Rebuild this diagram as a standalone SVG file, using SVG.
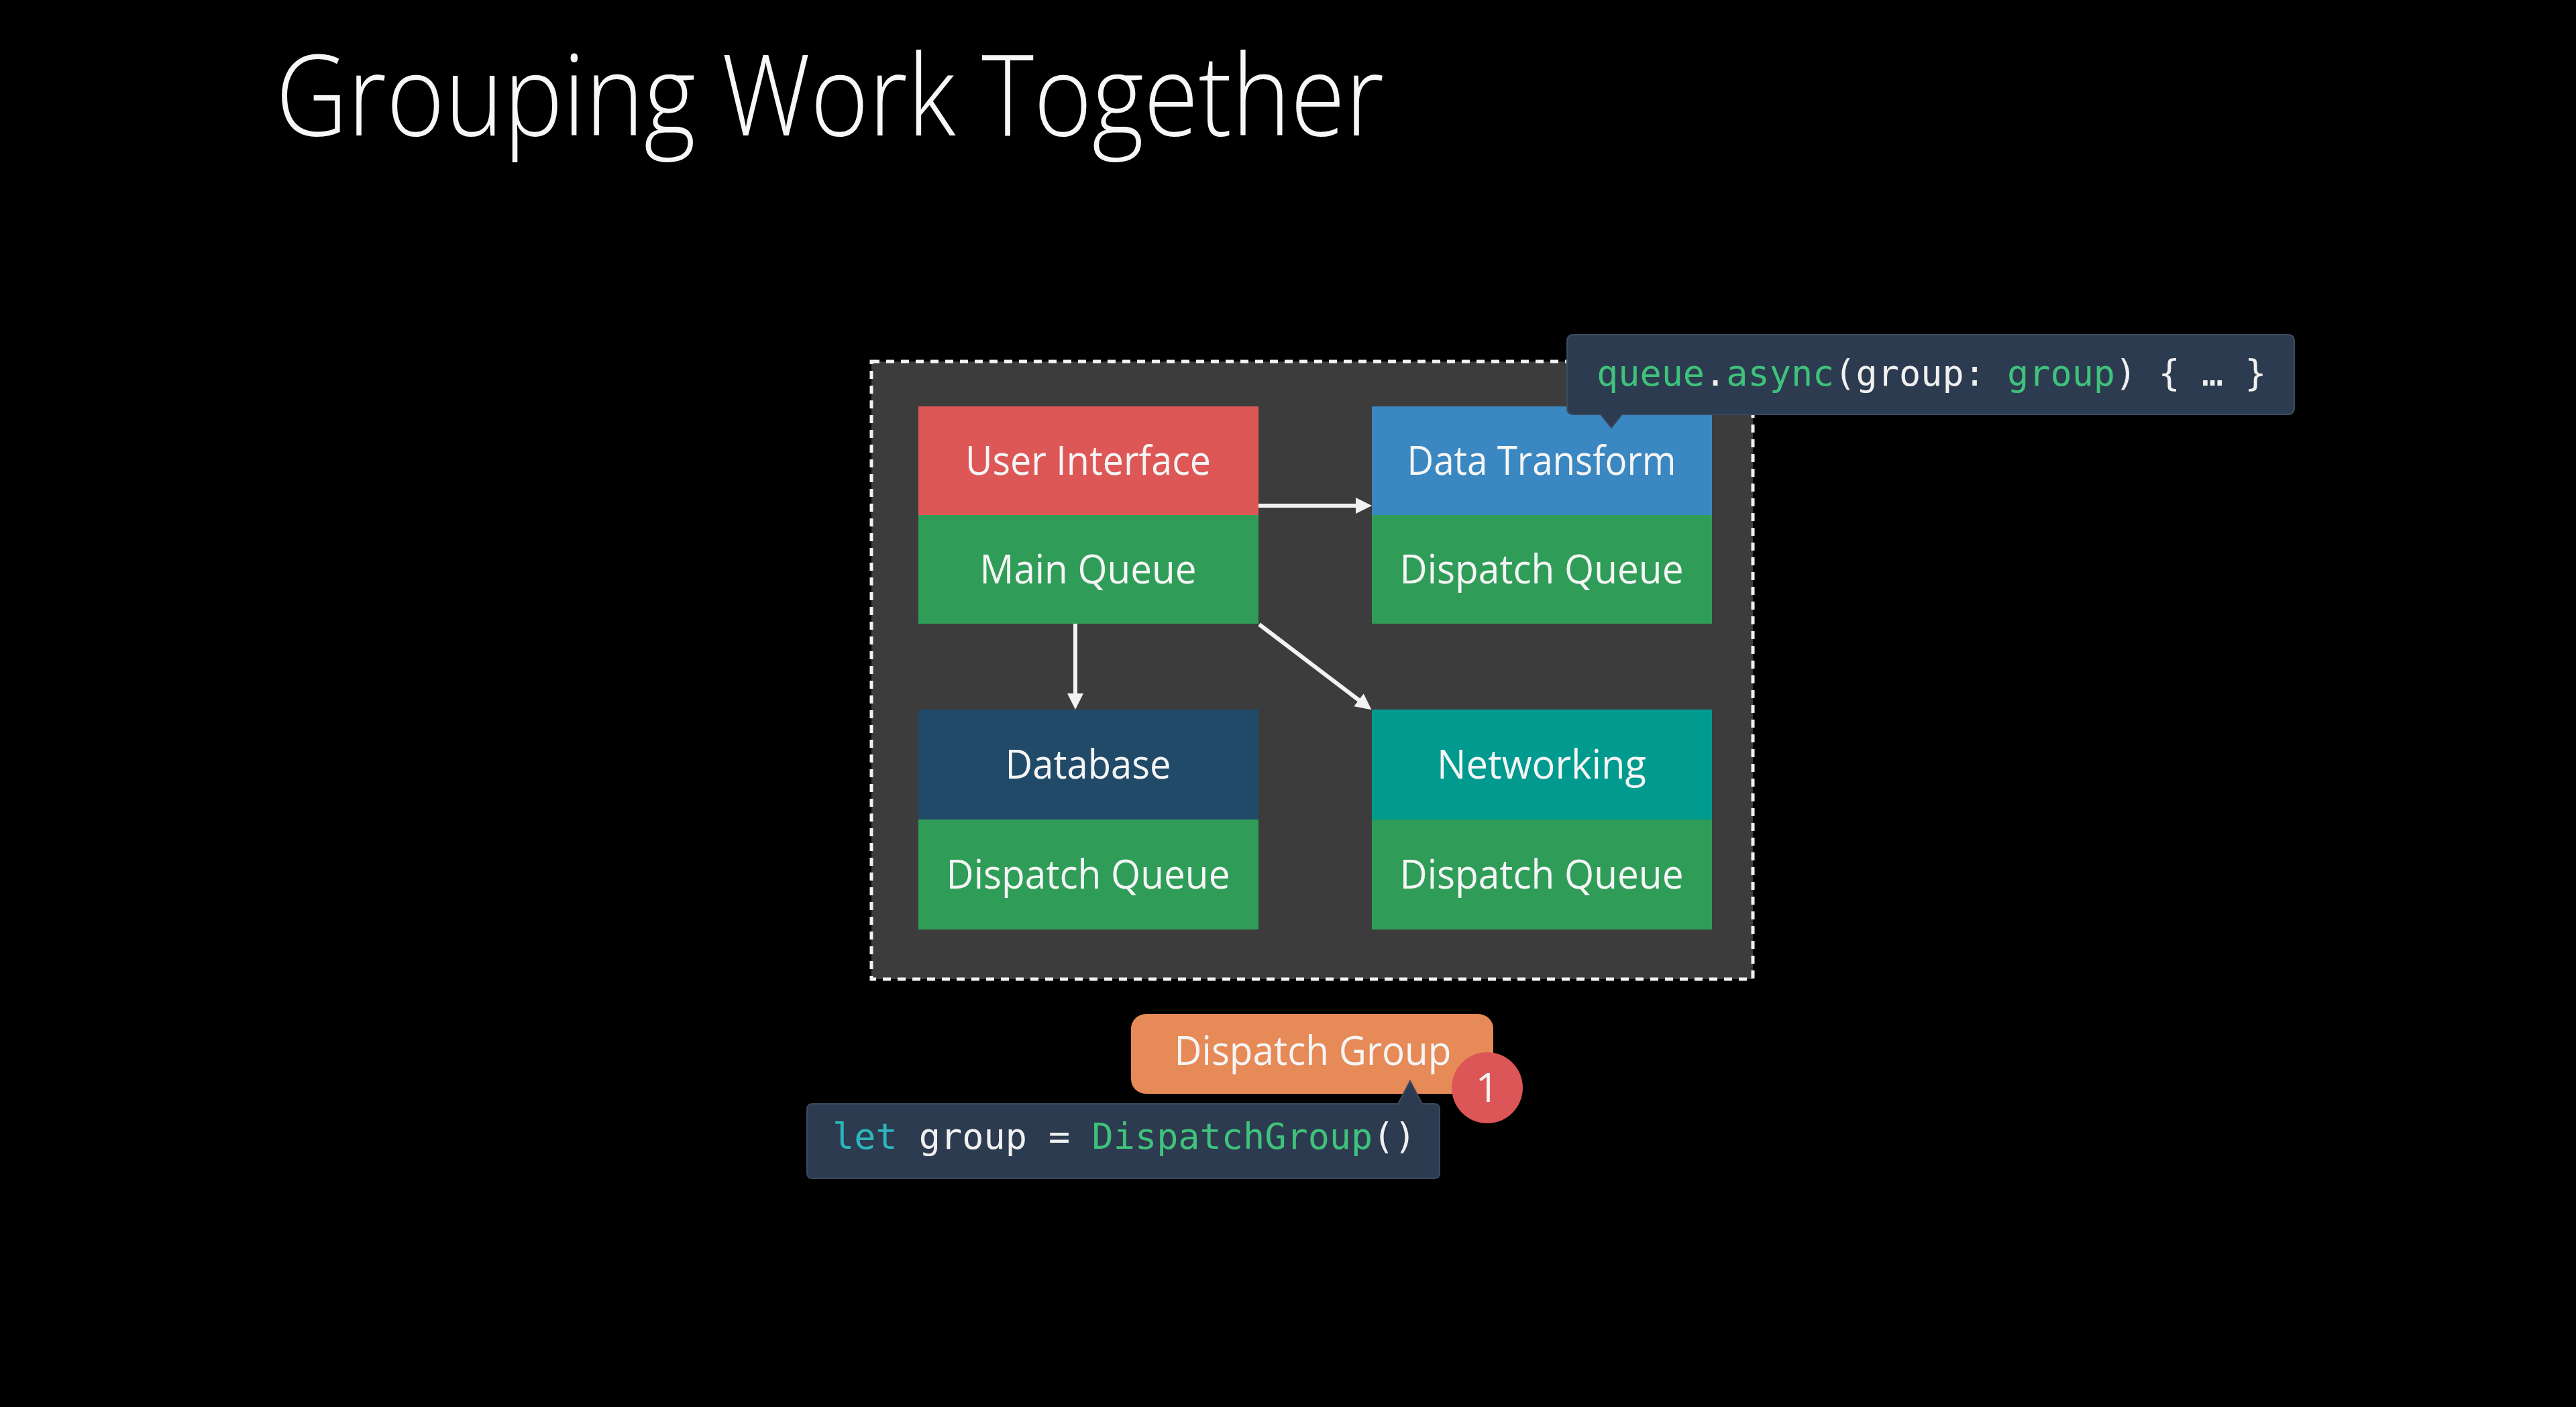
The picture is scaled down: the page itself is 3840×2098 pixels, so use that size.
<svg xmlns="http://www.w3.org/2000/svg" width="3840" height="2098" viewBox="0 0 3840 2098">
  <style>
    .label { font-family: "Open Sans", "Noto Sans", "Liberation Sans", sans-serif; font-size: 60px; fill: #f5f5f5; text-anchor: middle; }
    .title { font-family: "Open Sans", "Lato", "Liberation Sans", sans-serif; font-weight: 300; font-size: 168px; fill: #f7f7f7; }
    .code { font-family: "DejaVu Sans Mono", "Liberation Mono", monospace; font-size: 53.5px; fill: #f0f0f0; }
    .kw-green { fill: #3fc27b; }
    .kw-cyan { fill: #2cb6bb; }
    .conn { stroke: #f2f2f2; stroke-width: 6; fill: none; }
    .tip { fill: #2c3b4f; stroke: #3a4b62; stroke-width: 2; }
  </style>
  <defs>
    <marker id="arrow" markerUnits="userSpaceOnUse" viewBox="0 0 24 24" refX="2" refY="12" markerWidth="24" markerHeight="24" orient="auto">
      <path d="M0,0 L24,12 L0,24 Z" fill="#f2f2f2"/>
    </marker>
  </defs>

  <rect width="3840" height="2098" fill="#000000"/>

  <!-- Title -->
  <text class="title" x="411" y="202" textLength="1652" lengthAdjust="spacingAndGlyphs">Grouping Work Together</text>

  <!-- Container for the queues -->
  <rect id="container" x="1299" y="539" width="1314" height="921" fill="#3c3c3c" stroke="#f2f2f2" stroke-width="5" stroke-dasharray="12 10"/>

  <!-- Nodes -->
  <g id="user-interface">
    <rect x="1369" y="606" width="507" height="162" fill="#de5757"/>
    <rect x="1369" y="768" width="507" height="162" fill="#2f9d58"/>
    <text class="label" x="1622" y="708" textLength="366" lengthAdjust="spacingAndGlyphs">User Interface</text>
    <text class="label" x="1622" y="870" textLength="323" lengthAdjust="spacingAndGlyphs">Main Queue</text>
  </g>

  <g id="data-transform">
    <rect x="2045" y="606" width="507" height="162" fill="#3b87c1"/>
    <rect x="2045" y="768" width="507" height="162" fill="#2f9d58"/>
    <text class="label" x="2298" y="708" textLength="401" lengthAdjust="spacingAndGlyphs">Data Transform</text>
    <text class="label" x="2298" y="870" textLength="423" lengthAdjust="spacingAndGlyphs">Dispatch Queue</text>
  </g>

  <g id="database">
    <rect x="1369" y="1058" width="507" height="164" fill="#214a68"/>
    <rect x="1369" y="1222" width="507" height="164" fill="#2f9d58"/>
    <text class="label" x="1622" y="1161" textLength="247" lengthAdjust="spacingAndGlyphs">Database</text>
    <text class="label" x="1622" y="1325" textLength="423" lengthAdjust="spacingAndGlyphs">Dispatch Queue</text>
  </g>

  <g id="networking">
    <rect x="2045" y="1058" width="507" height="164" fill="#019a8f"/>
    <rect x="2045" y="1222" width="507" height="164" fill="#2f9d58"/>
    <text class="label" x="2298" y="1161" textLength="312" lengthAdjust="spacingAndGlyphs">Networking</text>
    <text class="label" x="2298" y="1325" textLength="423" lengthAdjust="spacingAndGlyphs">Dispatch Queue</text>
  </g>

  <!-- Connectors -->
  <g id="connectors">
    <line class="conn" x1="1876" y1="754" x2="2023" y2="754" marker-end="url(#arrow)"/>
    <line class="conn" x1="1603" y1="930" x2="1603" y2="1036" marker-end="url(#arrow)"/>
    <line class="conn" x1="1877" y1="931" x2="2027" y2="1045" marker-end="url(#arrow)"/>
  </g>

  <!-- Callout: async with group -->
  <g id="async-callout">
    <path class="tip" d="M2346,499 H3410 Q3420,499 3420,509 V608 Q3420,618 3410,618 H2418 L2402,638 L2386,618 H2346 Q2336,618 2336,608 V509 Q2336,499 2346,499 Z"/>
    <text class="code" x="2380" y="575"><tspan class="kw-green">queue</tspan>.<tspan class="kw-green">async</tspan>(group: <tspan class="kw-green">group</tspan>) { … }</text>
  </g>

  <!-- Dispatch group -->
  <g id="dispatch-group">
    <rect x="1686" y="1512" width="540" height="119" rx="22" fill="#e68a57"/>
    <text class="label" x="1957" y="1588" textLength="413" lengthAdjust="spacingAndGlyphs">Dispatch Group</text>
  </g>

  <!-- Callout: group creation -->
  <g id="group-callout">
    <path class="tip" d="M1211,1646 H2084 L2102,1612 L2120,1646 H2138 Q2146,1646 2146,1654 V1749 Q2146,1757 2138,1757 H1211 Q1203,1757 1203,1749 V1654 Q1203,1646 1211,1646 Z"/>
    <text class="code" x="1241" y="1713"><tspan class="kw-cyan">let</tspan> group = <tspan class="kw-green">DispatchGroup</tspan>()</text>
  </g>

  <!-- Step badge -->
  <g id="badge">
    <circle cx="2217" cy="1622" r="53" fill="#dc5557"/>
    <text class="label" x="2217" y="1643" style="font-size:60px">1</text>
  </g>
</svg>
